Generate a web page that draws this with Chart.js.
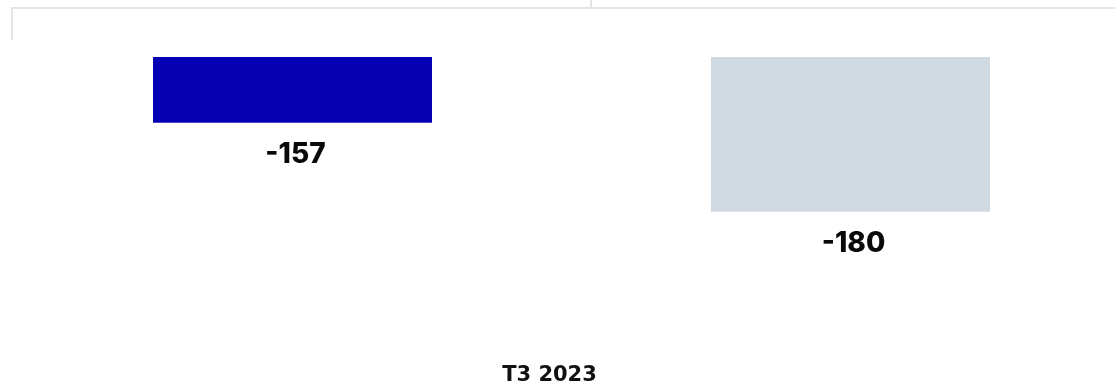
<!DOCTYPE html>
<html>
<head>
<meta charset="utf-8">
<script src="https://cdn.jsdelivr.net/npm/chart.js@4.4.1/dist/chart.umd.min.js"></script>
<style>
  html, body { margin: 0; padding: 0; background: #fff; }
  #wrap { position: absolute; left: 0; top: 0; width: 1115px; height: 391px; }
  .ln { position: absolute; background: #e4e4e4; }
</style>
</head>
<body>
<div class="ln" style="left:11px; top:7px; width:1104px; height:2px;"></div>
<div class="ln" style="left:11px; top:7px; width:2px; height:33px;"></div>
<div class="ln" style="left:590px; top:0px; width:2px; height:8px;"></div>
<div id="wrap"><canvas id="c"></canvas></div>
<script>
const categories = ['T3 2023'];
const seriesNames = ['Série 1', 'Série 2'];
const series1 = [-157];
const series2 = [-180];
const yMin = -219;
const yMax = -140;

const valueLabels = {
  id: 'valueLabels',
  afterDatasetsDraw(chart) {
    const ctx = chart.ctx;
    ctx.save();
    ctx.font = '800 28px Inter, "Open Sans", sans-serif';
    ctx.fillStyle = '#0a0a0a';
    ctx.textAlign = 'center';
    ctx.textBaseline = 'middle';
    chart.data.datasets.forEach((ds, i) => {
      const meta = chart.getDatasetMeta(i);
      meta.data.forEach((el, j) => {
        ctx.fillText(String(ds.data[j]), el.x + 3, el.y + 32);
      });
    });
    ctx.restore();
  }
};

new Chart(document.getElementById('c'), {
  type: 'bar',
  data: {
    labels: categories,
    datasets: [
      { label: seriesNames[0], data: series1, backgroundColor: '#0600b4', barPercentage: 0.5, categoryPercentage: 1116 / 1087 },
      { label: seriesNames[1], data: series2, backgroundColor: '#cfd9e2', barPercentage: 0.5, categoryPercentage: 1116 / 1087 }
    ]
  },
  options: {
    responsive: true,
    maintainAspectRatio: false,
    animation: false,
    layout: { padding: { top: 57, left: 28, right: 0, bottom: 3 } },
    plugins: { legend: { display: false }, tooltip: { enabled: false } },
    scales: {
      y: { display: false, min: yMin, max: yMax },
      x: {
        grid: { display: false, drawTicks: false },
        border: { display: false },
        ticks: {
          padding: 0,
          color: '#111',
          labelOffset: -22,
          font: { family: '"DejaVu Sans", sans-serif', weight: '700', size: 21 }
        }
      }
    }
  },
  plugins: [valueLabels]
});
</script>
</body>
</html>
